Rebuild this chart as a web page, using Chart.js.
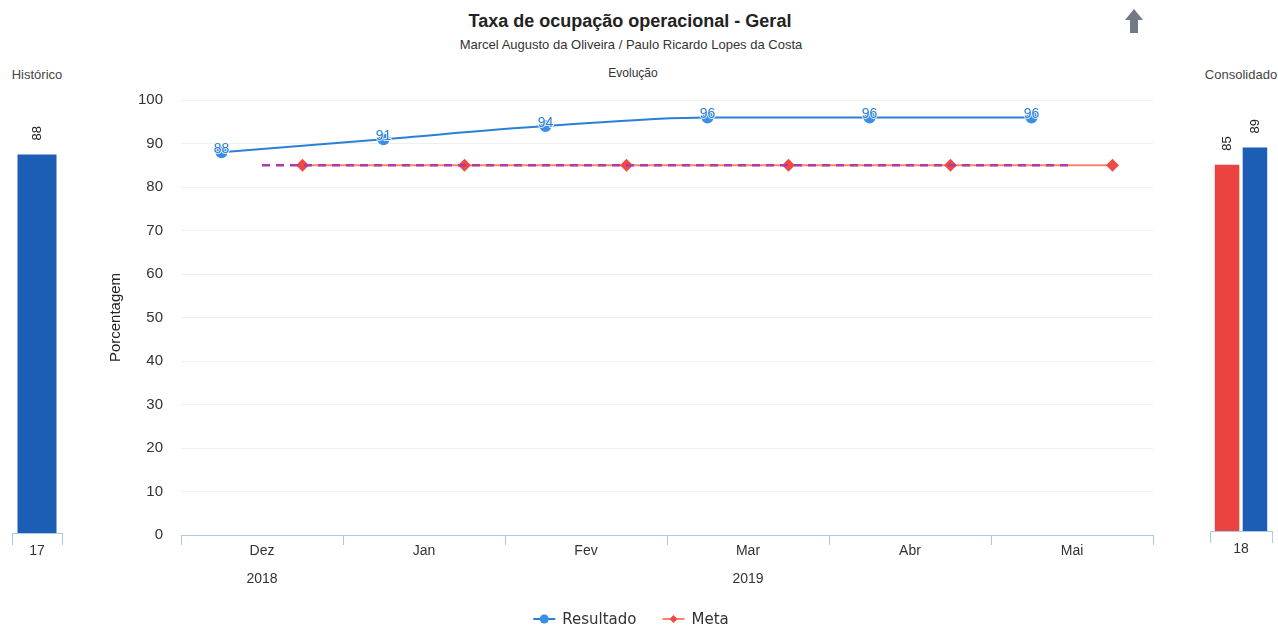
<!DOCTYPE html>
<html>
<head>
<meta charset="utf-8">
<script src="https://cdn.jsdelivr.net/npm/chart.js@4.4.1/dist/chart.umd.min.js"></script>
<style>
body{margin:0;background:#fff;width:1278px;height:628px;overflow:hidden;position:relative;font-family:"Liberation Sans",Arial,sans-serif;}
canvas{position:absolute;top:0;}
.txt{position:absolute;white-space:nowrap;transform:translateX(-50%);line-height:1;}
</style>
</head>
<body>
<div class="txt" style="left:630px;top:12px;font-size:18px;font-weight:bold;color:#222">Taxa de ocupação operacional - Geral</div>
<div class="txt" style="left:631px;top:38px;font-size:13px;color:#333">Marcel Augusto da Oliveira / Paulo Ricardo Lopes da Costa</div>
<div class="txt" style="left:633px;top:67px;font-size:12px;color:#333">Evolução</div>
<div class="txt" style="left:37px;top:68px;font-size:13px;color:#444">Histórico</div>
<div class="txt" style="left:1241px;top:68px;font-size:13px;color:#444">Consolidado</div>
<svg style="position:absolute;left:1125px;top:9px" width="18" height="25"><polygon points="9,0 18,11 13,11 13,24 5,24 5,11 0,11" fill="#717a86"/></svg>

<canvas id="hist" style="left:0" width="80" height="628"></canvas>
<canvas id="main" style="left:0" width="1278" height="628"></canvas>
<canvas id="cons" style="left:1195px" width="83" height="628"></canvas>

<script>
// data
var months = ['Dez', 'Jan', 'Fev', 'Mar', 'Abr', 'Mai'];
var years = ['2018', '2019', '2019', '2019', '2019', '2019'];
var resultado = [88, 91, 94, 96, 96, 96];
var meta = [85, 85, 85, 85, 85, 85];
var metaRef = [85, 85, 85, 85, 85, 85];
var yTicks = [0, 10, 20, 30, 40, 50, 60, 70, 80, 90, 100];

var histCategories = ['17'];
var histValues = [88];

var consCategories = ['18'];
var consMeta = [85];
var consResultado = [89];

var BLUE = '#2c7fd6';
var BAR_BLUE = '#1c5db6';
var RED = '#ea4340';
var ORANGE = '#f5866c';
var AXIS = '#a9cbe6';

// month label with the year written under the middle month of its group
function groupedLabels() {
    var out = months.map(function (m) { return [m, '']; });
    var start = 0;
    for (var i = 1; i <= years.length; i++) {
        if (i === years.length || years[i] !== years[start]) {
            out[Math.floor((start + i - 1) / 2)][1] = years[start];
            start = i;
        }
    }
    return out;
}

// line series are grouped like columns: shifted inside each category
function shifted(values, shift) {
    return values.map(function (v, i) { return {x: i + shift, y: v}; });
}

var valueLabels = {
    id: 'valueLabels',
    afterDatasetsDraw: function (chart) {
        var ctx = chart.ctx;
        chart.data.datasets.forEach(function (ds, i) {
            if (!ds.showValues) return;
            chart.getDatasetMeta(i).data.forEach(function (el, j) {
                var v = ds.data[j];
                var txt = String(typeof v === 'object' ? v.y : v);
                ctx.save();
                if (ds.showValues === 'rotated') {
                    ctx.translate(el.x, el.y - 14);
                    ctx.rotate(-Math.PI / 2);
                    ctx.font = '13px "Liberation Sans", Arial, sans-serif';
                    ctx.textAlign = 'left';
                    ctx.textBaseline = 'middle';
                    ctx.fillStyle = '#222';
                    ctx.fillText(txt, 0, 0);
                } else {
                    ctx.font = '14px "Liberation Sans", Arial, sans-serif';
                    ctx.textAlign = 'center';
                    ctx.textBaseline = 'middle';
                    ctx.lineWidth = 2;
                    ctx.strokeStyle = 'rgba(255,255,255,0.8)';
                    ctx.strokeText(txt, el.x, el.y - 3);
                    ctx.fillStyle = BLUE;
                    ctx.fillText(txt, el.x, el.y - 3);
                }
                ctx.restore();
            });
        });
    }
};

// legend drawn highcharts-like: line + marker + name
var lineLegend = {
    id: 'lineLegend',
    afterDraw: function (chart) {
        var ctx = chart.ctx;
        var items = chart.data.datasets.filter(function (d) { return !d.noLegend; });
        ctx.save();
        ctx.font = '15px "DejaVu Sans", sans-serif';
        var widths = items.map(function (d) { return 22 + 7 + ctx.measureText(d.label).width; });
        var total = widths.reduce(function (a, b) { return a + b; }, 0) + 26 * (items.length - 1);
        var x = 631 - total / 2;
        var y = 619;
        items.forEach(function (d, k) {
            ctx.strokeStyle = d.borderColor;
            ctx.lineWidth = 2;
            ctx.beginPath();
            ctx.moveTo(x, y);
            ctx.lineTo(x + 22, y);
            ctx.stroke();
            ctx.fillStyle = d.pointBackgroundColor;
            ctx.beginPath();
            if (d.pointStyle === 'rectRot') {
                ctx.moveTo(x + 11, y - 4); ctx.lineTo(x + 15, y);
                ctx.lineTo(x + 11, y + 4); ctx.lineTo(x + 7, y);
            } else {
                ctx.arc(x + 11, y, 4.5, 0, Math.PI * 2);
            }
            ctx.fill();
            ctx.fillStyle = '#333';
            ctx.textBaseline = 'middle';
            ctx.fillText(d.label, x + 29, y + 1);
            x += widths[k] + 26;
        });
        ctx.restore();
    }
};

new Chart(document.getElementById('main'), {
    type: 'line',
    data: {
        labels: groupedLabels(),
        datasets: [
            {
                label: 'Resultado',
                data: shifted(resultado, -0.25),
                xAxisID: 'xl',
                borderColor: BLUE,
                borderWidth: 2,
                pointBackgroundColor: '#3a8fe4',
                pointBorderColor: '#3a8fe4',
                pointRadius: 5,
                cubicInterpolationMode: 'monotone',
                showValues: true
            },
            {
                label: 'Meta referência',
                data: shifted(metaRef, 0),
                xAxisID: 'xl',
                borderColor: '#b03aa6',
                borderWidth: 2.5,
                borderDash: [8, 6],
                pointRadius: 0,
                noLegend: true
            },
            {
                label: 'Meta',
                data: shifted(meta, 0.25),
                xAxisID: 'xl',
                borderColor: ORANGE,
                borderWidth: 2,
                pointStyle: 'rectRot',
                pointBackgroundColor: '#ef4a46',
                pointBorderColor: '#ef4a46',
                pointRadius: 5
            }
        ]
    },
    options: {
        responsive: false,
        animation: false,
        layout: {padding: {left: 100, right: 125, top: 100, bottom: 33}},
        plugins: {legend: {display: false}, tooltip: {enabled: false}},
        scales: {
            x: {
                type: 'category',
                offset: true,
                grid: {offset: true, drawOnChartArea: false, tickLength: 10, color: AXIS},
                border: {color: AXIS},
                ticks: {color: '#333', font: {size: 14, lineHeight: 2}, padding: -8, maxRotation: 0, autoSkip: false},
                afterFit: function (s) { s.height = 60; }
            },
            xl: {
                type: 'linear',
                axis: 'x',
                position: 'bottom',
                display: false,
                min: -0.5,
                max: months.length - 0.5
            },
            y: {
                min: yTicks[0],
                max: yTicks[yTicks.length - 1],
                ticks: {stepSize: yTicks[1] - yTicks[0], color: '#333', font: {size: 15}, padding: 18},
                grid: {color: '#efefef', drawTicks: false},
                border: {display: false},
                title: {display: true, text: 'Porcentagem', color: '#222', font: {size: 15}, padding: {top: 7, bottom: 0}},
                afterFit: function (s) { s.width = 81; }
            }
        }
    },
    plugins: [valueLabels, lineLegend]
});

function sideChart(id, labels, datasets, pad, catPct, barPct) {
    return new Chart(document.getElementById(id), {
        type: 'bar',
        data: {labels: labels, datasets: datasets},
        options: {
            responsive: false,
            animation: false,
            layout: {padding: pad},
            plugins: {legend: {display: false}, tooltip: {enabled: false}},
            datasets: {bar: {categoryPercentage: catPct, barPercentage: barPct}},
            scales: {
                x: {
                    grid: {offset: true, drawOnChartArea: false, tickLength: 12, color: AXIS},
                    border: {color: AXIS},
                    ticks: {color: '#333', font: {size: 14}, padding: -2},
                    afterFit: function (s) { s.height = 30; }
                },
                y: {display: false, min: 0, max: 100}
            }
        },
        plugins: [valueLabels]
    });
}

sideChart('hist', histCategories, [
    {label: 'Resultado', data: histValues, backgroundColor: BAR_BLUE, showValues: 'rotated'}
], {left: 12, right: 18, top: 103, bottom: 65}, 1, 0.78);

sideChart('cons', consCategories, [
    {label: 'Meta', data: consMeta, backgroundColor: RED, showValues: 'rotated'},
    {label: 'Resultado', data: consResultado, backgroundColor: BAR_BLUE, showValues: 'rotated'}
], {left: 15, right: 6, top: 100, bottom: 67}, 0.9, 0.88);
</script>
</body>
</html>
